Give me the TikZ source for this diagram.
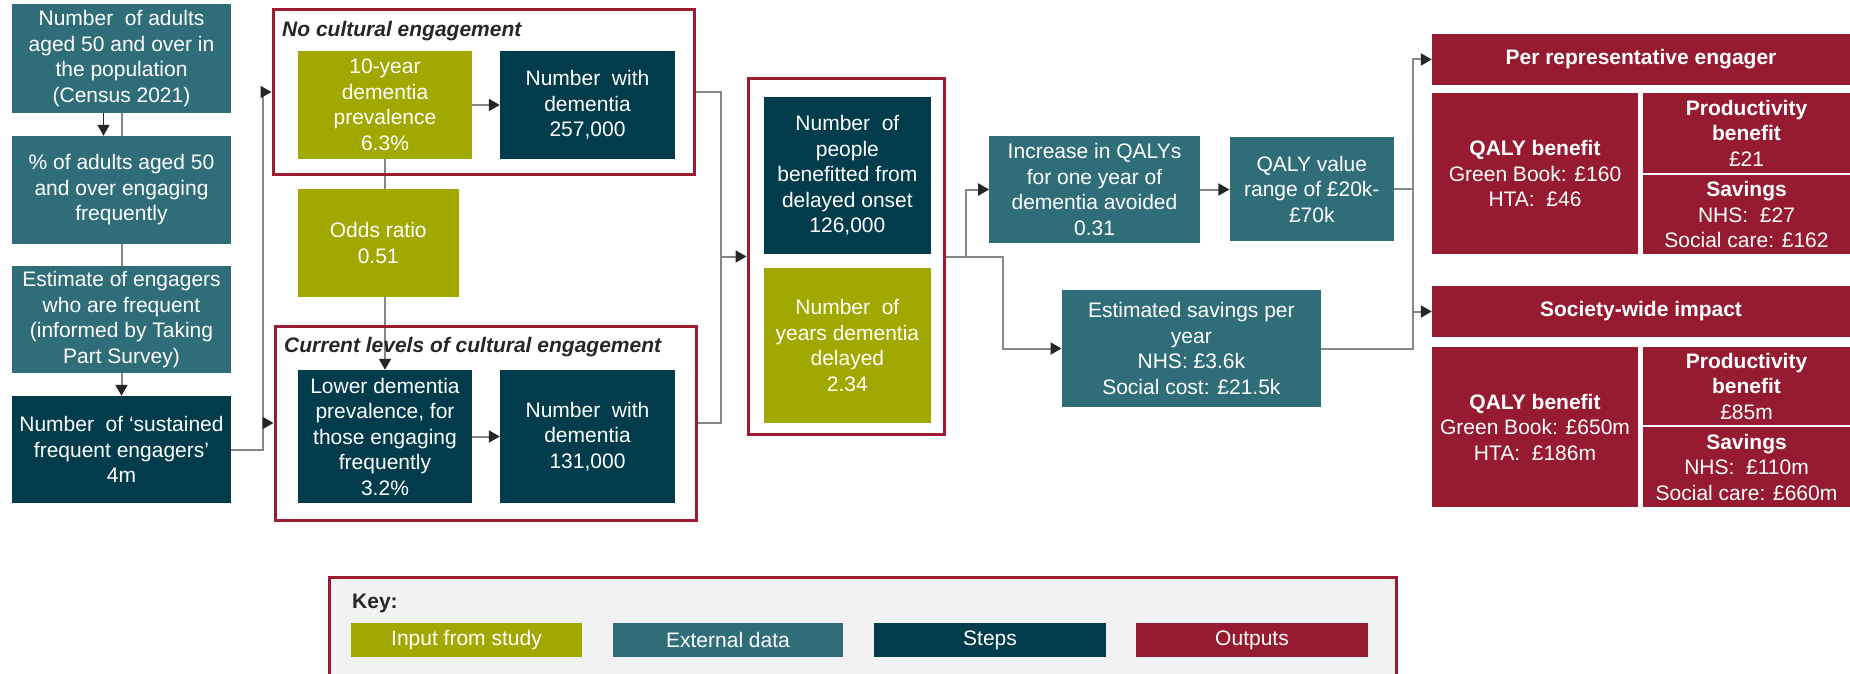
\documentclass[tikz,border=0pt]{standalone}
\usepackage{fontspec}
\setmainfont{Liberation Sans}
\usetikzlibrary{arrows.meta}
\definecolor{cInput}{RGB}{161,168,0}
\definecolor{cExt}{RGB}{47,110,120}
\definecolor{cStep}{RGB}{0,60,75}
\definecolor{cOut}{RGB}{150,26,48}
\definecolor{cFrame}{RGB}{155,27,48}
\definecolor{cLine}{RGB}{135,135,135}
\definecolor{cTip}{RGB}{38,38,38}
\definecolor{cText}{RGB}{38,38,38}
\definecolor{cKey}{RGB}{242,242,242}
\pgfdeclarelayer{bg}
\pgfsetlayers{bg,main}
\begin{document}
\begin{tikzpicture}[x=1pt,y=-1pt,
  box/.style={inner sep=0pt, align=center, text=white,
              font=\fontsize{21pt}{25.5pt}\selectfont},
  inp/.style={box, fill=cInput},
  ext/.style={box, fill=cExt},
  stp/.style={box, fill=cStep},
  outp/.style={box, fill=cOut},
  sz/.style 2 args={minimum width=#1pt, minimum height=#2pt},
  frm/.style={draw=cFrame, line width=3pt, inner sep=0pt},
  ttl/.style={anchor=west, inner sep=0pt, text=cText,
              font=\fontsize{21pt}{25.5pt}\selectfont\bfseries\itshape},
  conn/.style={draw=cLine, line width=2pt},
  arr/.style={-{Triangle[length=11pt,width=12pt,color=cTip]}}]
\useasboundingbox (0,0) rectangle (1850,674);

% inputs column
\node[ext, sz={219}{109}] (A1) at (121.5,58.5) {Number\ \ of adults\\aged 50 and over in\\the population\\(Census 2021)};
\node[ext, sz={219}{108}] (A2) at (121.5,190) {\% of adults aged 50\\and over engaging\\frequently};
\node[ext, sz={219}{107}] (A3) at (121.5,319.5) {Estimate of engagers\\who are frequent\\(informed by Taking\\Part Survey)};
\node[stp, sz={219}{107}] (A4) at (121.5,449.5) {Number\ \ of `sustained\\frequent engagers'\\4m};

% no cultural engagement
\node[frm, sz={421}{164}] (fr1) at (483.5,92) {};
\node[ttl] (t1) at (282,31) {No cultural engagement};
\node[inp, sz={174}{108}] (B1) at (385,105) {10-year\\dementia\\prevalence\\6.3\%};
\node[stp, sz={175}{108}] (B2) at (587.5,105) {Number\ \ with\\dementia\\257,000};
\node[inp, sz={160.5}{108}] (OD) at (378.25,243) {Odds ratio\\0.51};

% current levels of cultural engagement
\node[frm, sz={421}{194}] (fr2) at (485.5,423) {};
\node[ttl] (t2) at (284,347) {Current levels of cultural engagement};
\node[stp, sz={174}{133}] (C1) at (385,436.5) {Lower dementia\\prevalence, for\\those engaging\\frequently\\3.2\%};
\node[stp, sz={175}{133}] (C2) at (587.5,436.5) {Number\ \ with\\dementia\\131,000};

% delayed onset
\node[frm, sz={196}{355}] (fr3) at (846,256.5) {};
\node[stp, sz={167.8}{157}] (D1) at (847.4,175.5) {Number\ \ of\\people\\benefitted from\\delayed onset\\126,000};
\node[inp, sz={167.8}{155}] (D2) at (847.4,345.5) {Number\ \ of\\years dementia\\delayed\\2.34};

% valuation steps
\node[ext, sz={210.2}{107}] (E1) at (1094.5,189.5) {Increase in QALYs\\for one year of\\dementia avoided\\0.31};
\node[ext, sz={164.4}{104}] (E2) at (1311.8,189) {QALY value\\range of £20k-\\£70k};
\node[ext, sz={259.3}{117}] (E3) at (1191.35,348.5) {Estimated savings per\\year\\NHS: £3.6k\\Social cost: £21.5k};

% outputs
\node[outp, sz={418}{51}] (F1) at (1641,59.5) {\textbf{Per representative engager}};
\node[outp, sz={206}{161}] (F2) at (1535,173.5) {\textbf{QALY benefit}\\Green Book: £160\\HTA:\ \ £46};
\node[outp, sz={207}{80}] (F3) at (1746.5,133) {\textbf{Productivity}\\\textbf{benefit}\\£21};
\node[outp, sz={207}{79}] (F4) at (1746.5,214.5) {\textbf{Savings}\\NHS:\ \ £27\\Social care: £162};
\node[outp, sz={418}{51}] (G1) at (1641,311.5) {\textbf{Society-wide impact}};
\node[outp, sz={206}{160}] (G2) at (1535,427) {\textbf{QALY benefit}\\Green Book: £650m\\HTA:\ \ £186m};
\node[outp, sz={207}{78}] (G3) at (1746.5,386) {\textbf{Productivity}\\\textbf{benefit}\\£85m};
\node[outp, sz={207}{80}] (G4) at (1746.5,467) {\textbf{Savings}\\NHS:\ \ £110m\\Social care: £660m};

% key
\fill[cKey] (329,577) rectangle (1396,674);
\draw[cFrame, line width=3pt] (329,674) -- (329,577) -- (1396,577) -- (1396,674);
\node[ttl, font=\fontsize{21pt}{25.5pt}\selectfont\bfseries] (K) at (352,603) {Key:};
\node[inp, sz={231}{34}] (L1) at (466.5,640) {Input from study};
\node[ext, sz={230}{34}] (L2) at (728,640) {External data};
\node[stp, sz={232}{34}] (L3) at (990,640) {Steps};
\node[outp, sz={232}{34}] (L4) at (1252,640) {Outputs};

% connectors
\coordinate (j2) at (721,256.5);
\coordinate (j3) at (965.7,256.5);
\coordinate (j4) at (1002.8,256.5);
\coordinate (j5) at (1413,189);
\coordinate (j6) at (1413,348.5);
\begin{pgfonlayer}{bg}
  \draw[conn] (A1.south) -- (A3.north);
  \draw[conn, draw=cTip, line width=1.2pt, arr] ([xshift=-18pt]A1.south) -- ([xshift=-18pt]A2.north);
  \draw[conn, arr] (A3.south) -- (A4.north);
  \draw[conn, arr] (A4.east) -- ++(32,0) |- (fr1.west);
  \draw[conn, arr] (A4.east) -- ++(32,0) |- (fr2.west);
  \draw[conn, arr] (B1.east) -- (B2.west);
  \draw[conn, arr] (C1.east) -- (C2.west);
  \draw[conn, arr] (B1.south) -- (C1.north);
  \draw[conn] (fr1.east) -| (j2) |- (fr2.east);
  \draw[conn, arr] (j2) -- (fr3.west);
  \draw[conn, arr] (fr3.east) -- (j3) |- (E1.west);
  \draw[conn, arr] (j3) -- (j4) |- (E3.west);
  \draw[conn, arr] (E1.east) -- (E1.east -| E2.west);
  \draw[conn] (E2.east) -- (j5);
  \draw[conn, arr] (E3.east) -- (j6) |- (F1.west);
  \draw[conn, arr] (j6) |- (G1.west);
\end{pgfonlayer}
\end{tikzpicture}
\end{document}
